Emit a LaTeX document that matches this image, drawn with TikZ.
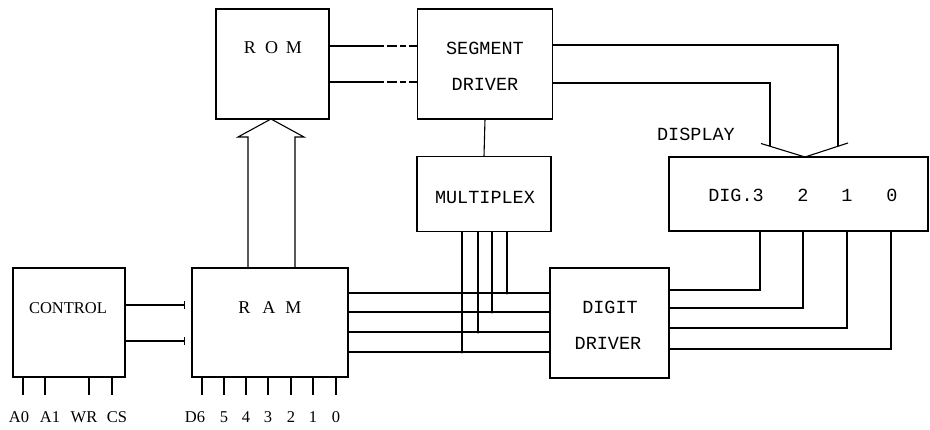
\documentclass[tikz,border=0pt]{standalone}
\usepackage{fontspec}
\setmainfont{Liberation Serif}
\newfontfamily\twfont{Liberation Mono}
\usetikzlibrary{arrows.meta}
\begin{document}
\begin{tikzpicture}[x=1pt,y=-1pt,line width=1.1pt,
  box/.style={draw,rectangle,inner sep=0pt,outer sep=0pt},
  twlabel/.style={font=\twfont\fontsize{18.5}{18.5}\selectfont,inner sep=0pt},
  serlabel/.style={font=\fontsize{16.5}{16.5}\selectfont,inner sep=0pt},
  junction/.style={circle,fill,inner sep=0pt,minimum size=3pt},
  ctrlarrow/.style={-{Bar[width=8pt,line width=1.1pt]},shorten >=7pt},
  romline/.style={dash pattern=on 55pt off 3pt on 10pt off 3pt on 6pt off 3pt on 8pt}
]
\useasboundingbox (0,0) rectangle (930,429);

% boxes
\node[box,minimum width=113pt,minimum height=110pt] (rom) at (272.5,64) {};
\node[box,minimum width=135pt,minimum height=110pt] (seg) at (485,64) {};
\node[box,minimum width=134pt,minimum height=75pt] (mux) at (484,194) {};
\node[box,minimum width=259pt,minimum height=74pt] (disp) at (798.5,194) {};
\node[box,minimum width=112pt,minimum height=109pt] (ctrl) at (69,322.5) {};
\node[box,minimum width=156pt,minimum height=109pt] (ram) at (270,322.5) {};
\node[box,minimum width=119pt,minimum height=110pt] (dig) at (609.5,323) {};

% labels
\node[serlabel,font=\fontsize{18}{18}\selectfont] (romt) at (273,48) {R\hspace{9pt}O\hspace{8pt}M};
\node[twlabel] (segt1) at (485,48) {SEGMENT};
\node[twlabel] (segt2) at (485,84) {DRIVER};
\node[twlabel] (muxt) at (485,197) {MULTIPLEX};
\node[twlabel] (dispt) at (696,134) {DISPLAY};
\node[twlabel] (d3) at (736,195) {DIG.3};
\node[twlabel] (d2) at (803,195) {2};
\node[twlabel] (d1) at (847,195) {1};
\node[twlabel] (d0) at (892,195) {0};
\node[serlabel] (ctrlt) at (68,308) {CONTROL};
\node[serlabel,font=\fontsize{18}{18}\selectfont] (ramt) at (270,308) {R\hspace{12pt}A\hspace{10pt}M};
\node[twlabel] (digt1) at (610,307) {DIGIT};
\node[twlabel] (digt2) at (608,343) {DRIVER};

% pins of CONTROL
\foreach \px/\lx/\t [count=\i] in {23/19/A0,45/50/A1,89/84/WR,112/117/CS}{
  \draw (ctrl.south -| \px,0) -- ++(0,18) coordinate (cp\i);
  \node[serlabel] (cl\i) at (\lx,417) {\t};
}
% pins of RAM
\foreach \px/\lx/\t [count=\i] in {202/195/D6,224/224/5,246/246/4,268/268/3,291/291/2,313/313/1,336/336/0}{
  \draw (ram.south -| \px,0) -- ++(0,18) coordinate (rp\i);
  \node[serlabel] (rl\i) at (\lx,417) {\t};
}

% ROM <-> SEGMENT DRIVER
\draw[romline] (rom.east |- 0,46) -- (seg.west |- 0,46);
\draw[romline] (rom.east |- 0,82) -- (seg.west |- 0,82);

% SEGMENT DRIVER -> MULTIPLEX
\draw (seg.south) -- (mux.north);

% block arrow RAM -> ROM
\draw[line join=miter] (ram.north -| 248,0) -- (248,137) -- (238,137)
  -- (rom.south -| 271,0) -- (304,137) -- (295,137) -- (ram.north -| 295,0);

% CONTROL -> RAM
\draw[ctrlarrow] (ctrl.east |- 0,305) -- (ram.west |- 0,305);
\draw[ctrlarrow] (ctrl.east |- 0,341) -- (ram.west |- 0,341);

% RAM -> DIGIT DRIVER bus
\foreach \yy in {293,312,332,352}{
  \draw (ram.east |- 0,\yy) -- (dig.west |- 0,\yy);
}
% MULTIPLEX taps
\foreach \xx/\yy in {462/352,478/332,492/312,507/293}{
  \draw (mux.south -| \xx,0) -- (\xx,\yy) node[junction] {};
}

% DIGIT DRIVER -> DISPLAY
\draw (dig.east |- 0,290) -| (disp.south -| 760,0);
\draw (dig.east |- 0,308) -| (disp.south -| 803,0);
\draw (dig.east |- 0,328) -| (disp.south -| 847,0);
\draw (dig.east |- 0,349) -| (disp.south -| 891,0);

% SEGMENT DRIVER -> DISPLAY
\coordinate (apex) at (disp.north -| 805,0);
\draw (seg.east |- 0,45) -| (838,145.5);
\draw (seg.east |- 0,83) -| (770,145.5);
\draw (761,143.5) -- (apex) -- (848,143);
\end{tikzpicture}
\end{document}
